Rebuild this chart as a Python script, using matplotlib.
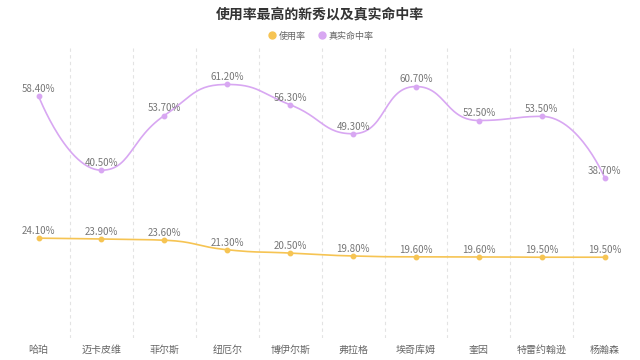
import matplotlib
matplotlib.use("Agg")
import matplotlib.pyplot as plt
from matplotlib.lines import Line2D
import numpy as np

plt.rcParams['font.family'] = ['Noto Sans CJK SC', 'DejaVu Sans']

players = ["哈珀", "迈卡皮维", "菲尔斯", "纽厄尔", "博伊尔斯", "弗拉格", "埃奇库姆", "奎因", "特雷约翰逊", "杨瀚森"]
usage = [24.1, 23.9, 23.6, 21.3, 20.5, 19.8, 19.6, 19.6, 19.5, 19.5]
ts = [58.4, 40.5, 53.7, 61.2, 56.3, 49.3, 60.7, 52.5, 53.5, 38.7]
series_names = ["使用率", "真实命中率"]
colors = ["#f6c453", "#d8a7f2"]

YMAX = 70
PX_X = 62.9
PX_Y = 290 / YMAX


def smooth_curve(xs, ys, smooth=0.5, n=30):
    px = np.array(xs, float) * PX_X
    py = np.array(ys, float) * PX_Y
    m = len(px)
    cprev = [None] * m
    cnext = [None] * m
    for i in range(m):
        x0, y0 = px[i], py[i]
        if i == 0 or i == m - 1:
            cprev[i] = (x0, y0)
            cnext[i] = (x0, y0)
            continue
        prx, pry = px[i - 1], py[i - 1]
        nx, ny = px[i + 1], py[i + 1]
        vx = (nx - prx) * smooth
        vy = (ny - pry) * smooth
        lp = np.hypot(x0 - prx, y0 - pry)
        ln = np.hypot(nx - x0, ny - y0)
        r = ln / (ln + lp)
        ncx = x0 + vx * r
        ncy = y0 + vy * r
        ncx = min(ncx, max(nx, x0)); ncy = min(ncy, max(ny, y0))
        ncx = max(ncx, min(nx, x0)); ncy = max(ncy, min(ny, y0))
        vx = ncx - x0; vy = ncy - y0
        pcx = x0 - vx * lp / ln
        pcy = y0 - vy * lp / ln
        pcx = min(pcx, max(prx, x0)); pcy = min(pcy, max(pry, y0))
        pcx = max(pcx, min(prx, x0)); pcy = max(pcy, min(pry, y0))
        vx = x0 - pcx; vy = y0 - pcy
        ncx = x0 + vx * ln / lp
        ncy = y0 + vy * ln / lp
        cprev[i] = (pcx, pcy)
        cnext[i] = (ncx, ncy)
    outx, outy = [], []
    t = np.linspace(0, 1, n)
    for i in range(m - 1):
        p0 = np.array([px[i], py[i]])
        p1 = np.array(cnext[i])
        p2 = np.array(cprev[i + 1])
        p3 = np.array([px[i + 1], py[i + 1]])
        b = ((1 - t) ** 3)[:, None] * p0 + (3 * (1 - t) ** 2 * t)[:, None] * p1 + \
            (3 * (1 - t) * t ** 2)[:, None] * p2 + (t ** 3)[:, None] * p3
        outx.extend(b[:, 0])
        outy.extend(b[:, 1])
    return np.array(outx) / PX_X, np.array(outy) / PX_Y


fig = plt.figure(figsize=(6.4, 3.6), dpi=100)
ax = fig.add_axes([7.1 / 640, 22 / 360, 629 / 640, 290 / 360])
x = np.arange(len(players))

for vals, c in [(usage, colors[0]), (ts, colors[1])]:
    sx, sy = smooth_curve(x, vals)
    ax.plot(sx, sy, color=c, lw=1.2, zorder=3)
    ax.plot(x, vals, 'o', color=c, ms=3.2, zorder=4)
    for xi, v in zip(x, vals):
        ax.annotate(f"{v:.2f}%", (xi, v), xytext=(0, 1.5), textcoords='offset points',
                    ha='center', va='bottom', fontsize=7, color='#777777', zorder=5)

ax.set_xlim(-0.5, len(players) - 0.5)
ax.set_ylim(0, YMAX)
for b in np.arange(0.5, len(players) - 1, 1.0):
    ax.axvline(b, color='#e3e3e3', lw=0.8, ls=(0, (3, 3)), zorder=1)
for s in ax.spines.values():
    s.set_visible(False)
ax.set_yticks([])
ax.set_xticks(x)
ax.set_xticklabels(players, fontsize=7.2, color='#666666')
ax.tick_params(axis='x', length=0, pad=5)

fig.text(0.5, 1 - 14 / 360, "使用率最高的新秀以及真实命中率", ha='center', va='center',
         fontsize=10, fontweight='bold', color='#333333')

handles = [Line2D([], [], marker='o', ls='none', color=c, ms=5) for c in colors]
fig.legend(handles, series_names, loc='center', bbox_to_anchor=(0.5, 1 - 36 / 360), ncol=2,
           frameon=False, fontsize=6.5, labelcolor='#666666', handletextpad=0.1,
           columnspacing=1.2, handlelength=1.2)

fig.savefig("out.png", dpi=100)
